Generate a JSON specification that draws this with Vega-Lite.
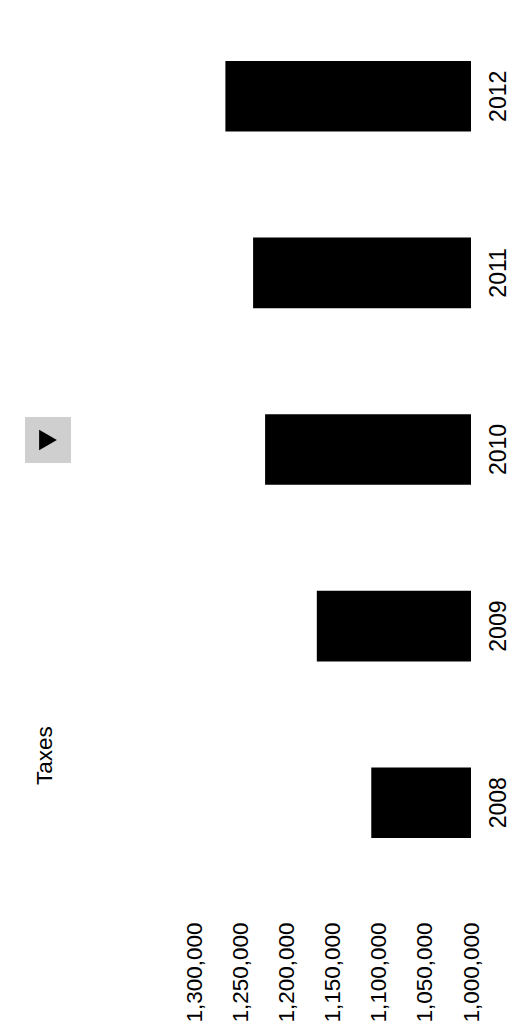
{
  "$schema": "https://vega.github.io/schema/vega-lite/v6.json",
  "autosize": "none",
  "width": 277,
  "height": 883,
  "padding": {"left": 194, "top": 8, "right": 51, "bottom": 134},
  "background": "white",
  "config": {"view": {"stroke": null}, "font": "Liberation Sans"},
  "title": {
    "text": "Taxes",
    "orient": "left",
    "anchor": "start",
    "angle": -90,
    "fontSize": 22.5,
    "fontWeight": "normal",
    "font": "Liberation Sans",
    "color": "black",
    "offset": -31,
    "dx": 237
  },
  "data": {
    "values": [
      {"year": "2008", "value": 1108000, "series": "Taxes"},
      {"year": "2009", "value": 1167000, "series": "Taxes"},
      {"year": "2010", "value": 1223000, "series": "Taxes"},
      {"year": "2011", "value": 1236000, "series": "Taxes"},
      {"year": "2012", "value": 1266000, "series": "Taxes"}
    ]
  },
  "mark": {"type": "bar", "clip": true},
  "encoding": {
    "y": {
      "field": "year",
      "type": "ordinal",
      "sort": "descending",
      "scale": {"paddingInner": 0.6, "paddingOuter": 0.3},
      "axis": {
        "orient": "right",
        "title": null,
        "labelAngle": -90,
        "labelAlign": "center",
        "labelBaseline": "top",
        "labelFontSize": 23,
        "labelColor": "black",
        "labelPadding": 16,
        "ticks": false,
        "domain": false,
        "grid": false
      }
    },
    "x": {
      "field": "value",
      "type": "quantitative",
      "scale": {"domain": [1000000, 1300000], "reverse": true, "nice": false, "zero": false},
      "axis": {
        "orient": "bottom",
        "title": null,
        "values": [1000000, 1050000, 1100000, 1150000, 1200000, 1250000, 1300000],
        "format": ",d",
        "labelAngle": -90,
        "labelAlign": "right",
        "labelBaseline": "middle",
        "labelFontSize": 22.5,
        "labelColor": "black",
        "labelPadding": 31,
        "ticks": false,
        "domain": false,
        "grid": false
      }
    },
    "color": {
      "field": "series",
      "type": "nominal",
      "scale": {"range": ["black"]},
      "legend": {
        "orient": "none",
        "legendX": -169,
        "legendY": 409,
        "title": null,
        "symbolType": "triangle-right",
        "symbolSize": 420,
        "symbolFillColor": "black",
        "labelExpr": "''",
        "labelFontSize": 1,
        "labelOffset": 0,
        "fillColor": "#cfcfcf",
        "padding": 12
      }
    }
  }
}
